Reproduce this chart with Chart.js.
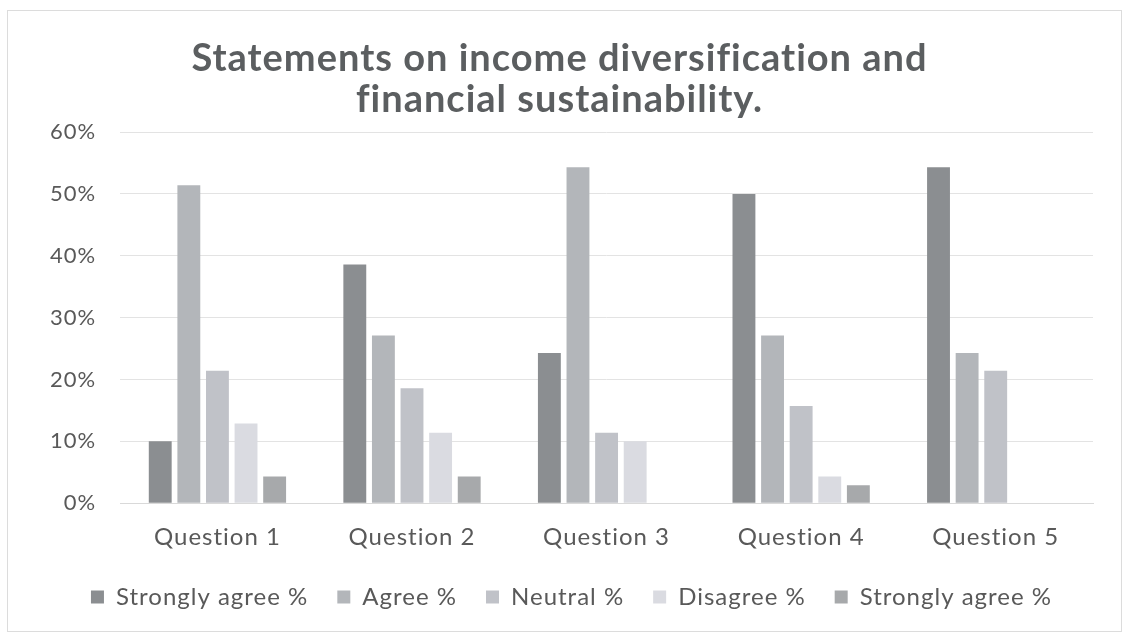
<!DOCTYPE html>
<html>
<head>
<meta charset="utf-8">
<script src="https://cdn.jsdelivr.net/npm/chart.js@4"></script>
<style>
  body { margin: 0; background: #fff; }
  #wrap { position: absolute; left: 7px; top: 10px; width: 1113px; height: 620px; border: 1px solid #dcdcdc; }
</style>
</head>
<body>
<div id="wrap"><canvas id="grafico" width="1113" height="620"></canvas></div>
<script>
// categorias e séries (valores em %)
const perguntas = ['Question 1', 'Question 2', 'Question 3', 'Question 4', 'Question 5'];
const seriesNomes = ['Strongly agree %', 'Agree %', 'Neutral %', 'Disagree %', 'Strongly agree %'];
const concordoTotal = [10.0, 38.6, 24.3, 50.0, 54.3];
const concordo = [51.4, 27.1, 54.3, 27.1, 24.3];
const neutro = [21.4, 18.6, 11.4, 15.7, 21.4];
const discordo = [12.9, 11.4, 10.0, 4.3, 0];
const discordoTotal = [4.3, 4.3, 0, 2.9, 0];
const cores = ['#8b8e91', '#b3b6ba', '#c0c2c8', '#dadbe1', '#a7a9ab'];

const valores = [concordoTotal, concordo, neutro, discordo, discordoTotal];

// o texto do original é um pouco espaçado
const espacamento = {
    id: 'espacamento',
    beforeUpdate(chart) { chart.ctx.letterSpacing = '1px'; },
    beforeDraw(chart) { chart.ctx.letterSpacing = '1px'; },
    afterLayout(chart) { chart.legend.left += 12; chart.legend.right += 12; }
};

new Chart(document.getElementById('grafico'), {
    type: 'bar',
    data: {
        labels: perguntas,
        datasets: valores.map((v, i) => ({
            label: seriesNomes[i],
            data: v,
            backgroundColor: cores[i],
            borderWidth: 0,
            categoryPercentage: 0.735,
            barPercentage: 0.8
        }))
    },
    options: {
        responsive: false,
        animation: false,
        layout: { padding: { left: 18, right: 28, top: 0, bottom: 12 } },
        plugins: {
            title: {
                display: true,
                text: ['Statements on income diversification and', 'financial sustainability.'],
                color: '#5b5e60',
                font: { family: 'Lato', size: 38, weight: 'bold', lineHeight: 1.08 },
                padding: { top: 27, bottom: 12 }
            },
            legend: {
                position: 'bottom',
                labels: {
                    color: '#595959',
                    font: { family: 'Lato', size: 24 },
                    boxWidth: 13,
                    boxHeight: 13,
                    padding: 29
                }
            },
            tooltip: { enabled: false }
        },
        scales: {
            x: {
                grid: { display: false, drawTicks: false },
                border: { color: '#d9d9d9' },
                ticks: { color: '#595959', font: { family: 'Lato', size: 24 }, padding: 20 },
                afterFit: escala => { escala.height -= 16; }
            },
            y: {
                min: 0,
                max: 60,
                grid: { color: '#e3e3e3', drawTicks: false },
                border: { display: false },
                ticks: {
                    stepSize: 10,
                    color: '#595959',
                    font: { family: 'Lato', size: 22 },
                    padding: 24,
                    callback: v => v + '%'
                }
            }
        }
    },
    plugins: [espacamento]
});
</script>
</body>
</html>
